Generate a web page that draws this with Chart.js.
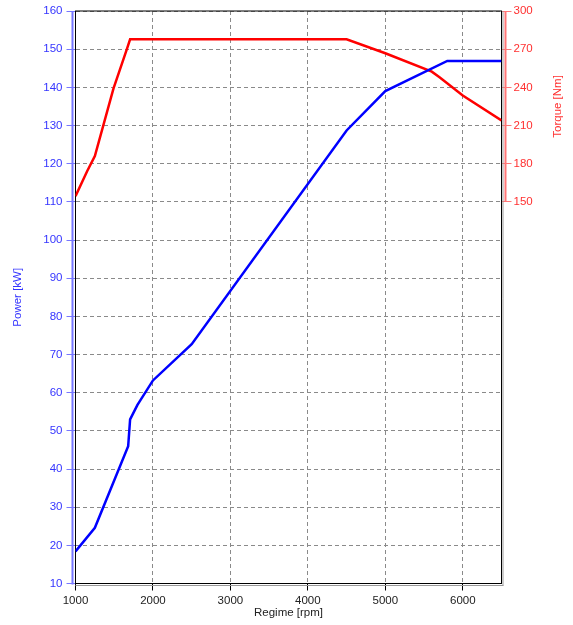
<!DOCTYPE html>
<html>
<head>
<meta charset="utf-8">
<script src="https://cdn.jsdelivr.net/npm/chart.js@4/dist/chart.umd.min.js"></script>
<style>
  body { margin: 0; background: #fff; }
  canvas { display: block; }
</style>
</head>
<body>
<canvas id="engine-chart" width="573" height="625"></canvas>
<script>
// Power curve
var powerRpm = [1000, 1250, 1680, 1705, 1800, 2000, 2500, 4500, 5000, 5800, 6500];
var powerKw  = [18.4, 24.6, 46, 53, 56.8, 63.2, 72.7, 128.7, 139, 146.9, 146.9];

// Torque curve
var torqueRpm = [1000, 1150, 1250, 1490, 1660, 1705, 4500, 5000, 5600, 5700, 6000, 6500];
var torqueNm  = [154.5, 174, 186, 239, 269.5, 277.8, 277.8, 266.8, 252.3, 248, 233.6, 214];

// axis ticks
var rpmTicks = [1000, 2000, 3000, 4000, 5000, 6000];

var blueText = '#3535ff', blueLine = '#7777ff';
var redText = '#ff3030', redLine = '#ff7777';
var font = { family: 'Liberation Sans, Arial, sans-serif', size: 11.5 };

function pts(xs, ys) {
  return xs.map(function (x, i) { return { x: x, y: ys[i] }; });
}

// frame + offset axis lines + torque title
var decor = {
  id: 'decor',
  beforeDatasetsDraw: function (chart) {
    var a = chart.chartArea, c = chart.ctx;
    var y2 = chart.scales.y2;
    c.save();
    c.lineWidth = 1;
    // grey shadow lines
    c.strokeStyle = '#999';
    c.beginPath();
    c.moveTo(a.left, a.bottom + 2); c.lineTo(a.right + 2, a.bottom + 2);
    c.moveTo(a.right + 1.5, a.top); c.lineTo(a.right + 1.5, a.bottom + 2);
    c.stroke();
    c.strokeStyle = '#000';
    c.strokeRect(a.left, a.top, a.right - a.left, a.bottom - a.top);
    // left blue axis line
    c.strokeStyle = blueLine; c.lineWidth = 2;
    c.beginPath();
    c.moveTo(a.left - 3, a.top); c.lineTo(a.left - 3, a.bottom + 1);
    c.stroke();
    // right red axis line (150..300 only)
    c.strokeStyle = redLine;
    c.beginPath();
    c.moveTo(a.right + 4, y2.getPixelForValue(300)); c.lineTo(a.right + 4, y2.getPixelForValue(150));
    c.stroke();
    // torque title
    c.fillStyle = redText;
    c.font = font.size + 'px ' + font.family;
    c.textAlign = 'center'; c.textBaseline = 'middle';
    c.translate(558, (y2.getPixelForValue(300) + y2.getPixelForValue(150)) / 2);
    c.rotate(-Math.PI / 2);
    c.fillText('Torque [Nm]', 0, 0);
    c.restore();
  }
};

new Chart(document.getElementById('engine-chart'), {
  type: 'line',
  data: {
    datasets: [
      {
        label: 'Power',
        data: pts(powerRpm, powerKw),
        borderColor: '#0000ff',
        borderWidth: 2.5,
        pointRadius: 0,
        tension: 0,
        yAxisID: 'y'
      },
      {
        label: 'Torque',
        data: pts(torqueRpm, torqueNm),
        borderColor: '#ff0000',
        borderWidth: 2.5,
        pointRadius: 0,
        tension: 0,
        yAxisID: 'y2'
      }
    ]
  },
  options: {
    responsive: false,
    animation: false,
    layout: { padding: { top: 11, left: 0, right: 0, bottom: 0 } },
    plugins: { legend: { display: false }, tooltip: { enabled: false } },
    scales: {
      x: {
        type: 'linear',
        min: 1000, max: 6500,
        afterBuildTicks: function (s) { s.ticks = rpmTicks.map(function (v) { return { value: v }; }); },
        afterFit: function (s) { s.height = 41.5; },
        ticks: { color: '#222', font: font, padding: 3, maxRotation: 0, autoSkip: false,
                 callback: function (v) { return String(v); } },
        grid: { color: '#8a8a8a', tickColor: '#000', tickLength: 7, lineWidth: 1 },
        border: { display: false, dash: [4, 3] },
        title: { display: true, text: 'Regime [rpm]', color: '#222', font: font, padding: { top: 0, bottom: 5 } }
      },
      y: {
        position: 'left',
        min: 10, max: 160,
        afterFit: function (s) { s.width = 75.5; },
        ticks: { stepSize: 10, color: blueText, font: font, padding: 4 },
        grid: { color: '#8a8a8a', tickColor: blueLine, tickLength: 9, lineWidth: 1 },
        border: { display: false, dash: [4, 3] },
        title: { display: true, text: 'Power [kW]', color: blueText, font: font, padding: { top: 11, bottom: 0 } }
      },
      y2: {
        position: 'right',
        min: -150, max: 300,
        afterFit: function (s) { s.width = 71.5; },
        ticks: {
          stepSize: 30, color: redText, font: font, padding: 2,
          callback: function (v) { return v >= 150 ? v : ''; }
        },
        grid: {
          drawOnChartArea: false,
          tickLength: 10,
          lineWidth: 1,
          tickColor: function (ctx) { return ctx.tick && ctx.tick.value >= 150 ? redLine : 'rgba(0,0,0,0)'; }
        },
        border: { display: false }
      }
    }
  },
  plugins: [decor]
});
</script>
</body>
</html>
